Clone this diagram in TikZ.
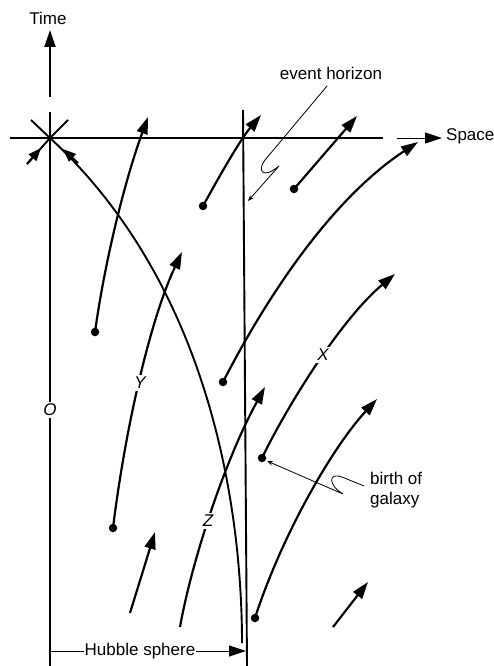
\documentclass[tikz,border=0pt]{standalone}
\usepackage{fontspec}
\setmainfont{Liberation Sans}
\usetikzlibrary{arrows.meta}
\begin{document}
\begin{tikzpicture}[x=1pt,y=-1pt,
  axis/.style={line width=1.9pt},
  wl/.style={line width=2.2pt},
  head/.style={-{Triangle[length=17pt,width=11pt]}},
  smallhead/.style={-{Triangle[length=13pt,width=10pt]}},
  thinline/.style={line width=0.9pt},
  lead/.style={line width=0.8pt,-{Stealth[length=6pt,width=4.5pt]}},
  dot/.style={circle,fill=black,inner sep=0pt,minimum size=8.5pt},
  lab/.style={font=\fontsize{17}{20}\selectfont, inner sep=1pt},
  cut/.style={font=\fontsize{17}{20}\selectfont\itshape,fill=white,inner sep=2pt}
]
\useasboundingbox (0,0) rectangle (494,666);

% observer origin
\coordinate (O) at (50,138);

% Time axis
\node[lab] (time) at (48,18) {Time};
\coordinate (tb) at (50,97);
\coordinate (tt) at (50,30);
\draw[axis,head] (tb) -- (tt);

% observer world line
\coordinate (otop) at (50,112);
\coordinate (obot) at (50,666);
\draw[axis] (otop) -- (obot);

% now line and space axis
\coordinate (nl) at (10,138);
\coordinate (nr) at (383,138);
\draw[axis] (nl) -- (nr);
\coordinate (sa) at (397,138);
\coordinate (sb) at (442,138);
\draw[thinline,head] (sa) -- (sb);
\node[lab,anchor=west] (space) at (445,136) {Space};

% star at origin
\coordinate (ul) at (31,120);
\coordinate (ur) at (68,120);
\coordinate (ll) at (27,164);
\coordinate (llt) at (41,148);
\draw[axis] (ul) -- (O) -- (ur);
\draw[axis] (ll) -- (O);
\draw[axis,smallhead] (ll) -- (llt);

% past light cone
\coordinate (lc0) at (242,643);
\draw[axis] (lc0) .. controls (242,520) and (215,290) .. (O);
\coordinate (lca) at (78,163);
\coordinate (lcb) at (63,149);
\draw[axis,smallhead] (lca) -- (lcb);

% event horizon
\coordinate (eht) at (243,110);
\coordinate (ehb) at (247,666);
\draw[axis] (eht) -- (ehb);

% galaxy world lines
\node[dot] (g1) at (95,332) {};
\coordinate (g1t) at (148,117);
\draw[wl,head] (g1.center) .. controls (105,260) and (125,180) .. (g1t);

\node[dot] (g2) at (203,206) {};
\coordinate (g2t) at (261,115);
\draw[wl,head] (g2.center) .. controls (220,175) and (240,140) .. (g2t);

\node[dot] (g3) at (294,189) {};
\coordinate (g3t) at (357,116);
\draw[wl,head] (g3.center) -- (g3t);

\node[dot] (g4) at (223,382) {};
\coordinate (g4t) at (418,142);
\draw[wl,head] (g4.center) .. controls (265,300) and (330,200) .. (g4t);

\node[dot] (gx) at (262,458) {};
\coordinate (gxt) at (395,274);
\draw[wl,head] (gx.center) .. controls (285,410) and (340,320) .. (gxt);

\node[dot] (gy) at (113,528) {};
\coordinate (gyt) at (182,252);
\draw[wl,head] (gy.center) .. controls (125,430) and (150,320) .. (gyt);

\coordinate (gz) at (180,627);
\coordinate (gzt) at (265,387);
\draw[wl,head] (gz) .. controls (192,560) and (225,460) .. (gzt);

\coordinate (s1) at (130,613);
\coordinate (s1t) at (155,532);
\draw[wl,head] (s1) -- (s1t);

\coordinate (s2) at (333,627);
\coordinate (s2t) at (368,582);
\draw[wl,head] (s2) -- (s2t);

\node[dot] (g5) at (255,618) {};
\coordinate (g5t) at (377,399);
\draw[wl,head] (g5.center) .. controls (280,540) and (330,450) .. (g5t);

% labels cutting lines
\node[cut] (lo) at (50,410) {O};
\node[cut] (lx) at (323,355) {X};
\node[cut] (ly) at (140,383) {Y};
\node[cut] (lz) at (208,521) {Z};

% Hubble sphere
\node[lab,fill=white] (hub) at (140,651) {Hubble sphere};
\coordinate (hl) at (50,651);
\coordinate (hr) at (246,651);
\draw[thinline] (hl) -- (hub.west);
\draw[thinline,head] (hub.east) -- (hr);

% event horizon label
\node[lab] (eh) at (331,73) {event horizon};
\coordinate (ehs) at (327,86);
\coordinate (ehtip) at (248,201);
\draw[lead] (ehs) -- (265,160) .. controls (257,170) and (262,180) .. (279,166) -- (ehtip);

% birth of galaxy label
\node[lab,anchor=west,align=left] (bg) at (369,490) {birth of\\galaxy};
\coordinate (bgs) at (364,486);
\coordinate (bgtip) at (267,461);
\draw[lead] (bgs) -- (342,477) .. controls (328,472) and (328,485) .. (343,494) -- (bgtip);
\end{tikzpicture}
\end{document}
